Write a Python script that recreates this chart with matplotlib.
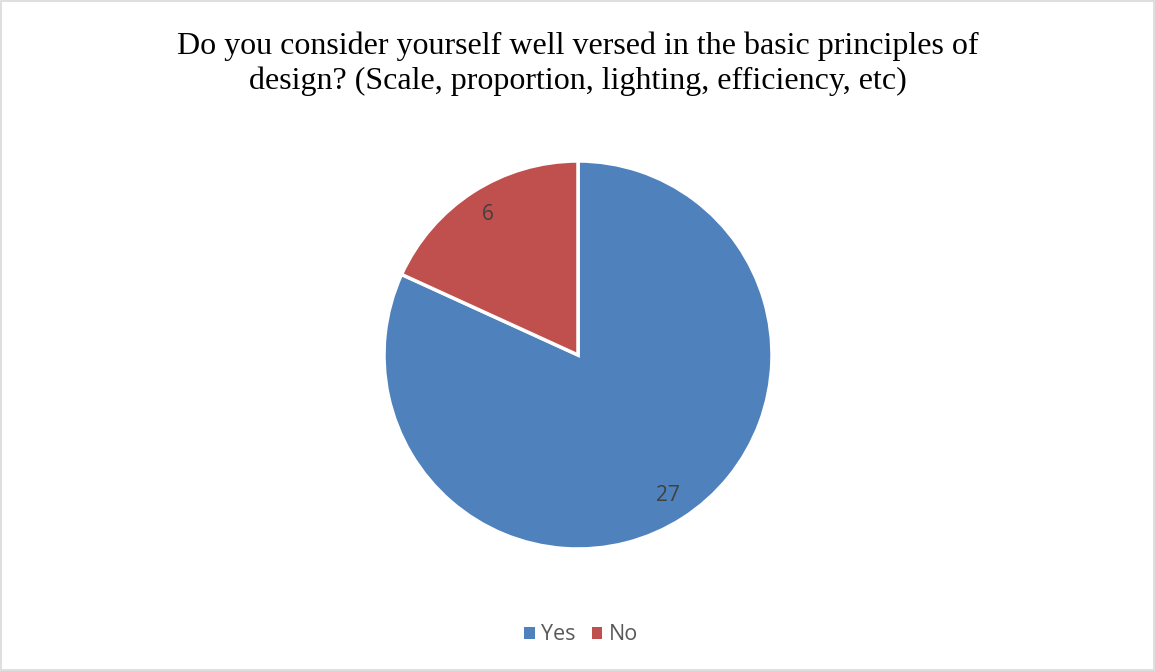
import matplotlib.pyplot as plt
from matplotlib.patches import Rectangle

answers = ["Yes", "No"]
counts = [27, 6]
colors = ["#4F81BD", "#C0504D"]

fig = plt.figure(figsize=(11.55, 6.71), dpi=100)
fig.patches.append(Rectangle((0.001, 0.001), 0.998, 0.997, transform=fig.transFigure,
                             fill=False, edgecolor="#D9D9D9", linewidth=1.2))

fig.text(0.5, 0.905, "Do you consider yourself well versed in the basic principles of\n"
         "design? (Scale, proportion, lighting, efficiency, etc)",
         ha="center", va="center", fontsize=23, family="Liberation Serif",
         linespacing=1.25, color="black")

r = 194
cx, cy = 578, 671 - 355
ax = fig.add_axes([(cx - r) / 1155, (cy - r) / 671, 2 * r / 1155, 2 * r / 671])

total = sum(counts)
wedges, texts, autotexts = ax.pie(
    counts, colors=colors, startangle=90, counterclock=False,
    autopct=lambda p: f"{round(p * total / 100)}", pctdistance=0.86,
    wedgeprops=dict(edgecolor="white", linewidth=2.5),
    textprops=dict(fontsize=15, color="#404040", family="Open Sans"))
ax.set_xlim(-1.0, 1.0)
ax.set_ylim(-1.0, 1.0)

leg = fig.legend(wedges, answers, loc="center", bbox_to_anchor=(0.503, 1 - 635 / 671),
                 ncol=2, frameon=False, handlelength=0.5, handleheight=0.5,
                 handletextpad=0.3, columnspacing=0.75,
                 prop=dict(family="Open Sans", size=15.5))
for t in leg.get_texts():
    t.set_color("#595959")
for h in leg.legend_handles:
    h.set_linewidth(0)

fig.savefig("out.png", dpi=100)
